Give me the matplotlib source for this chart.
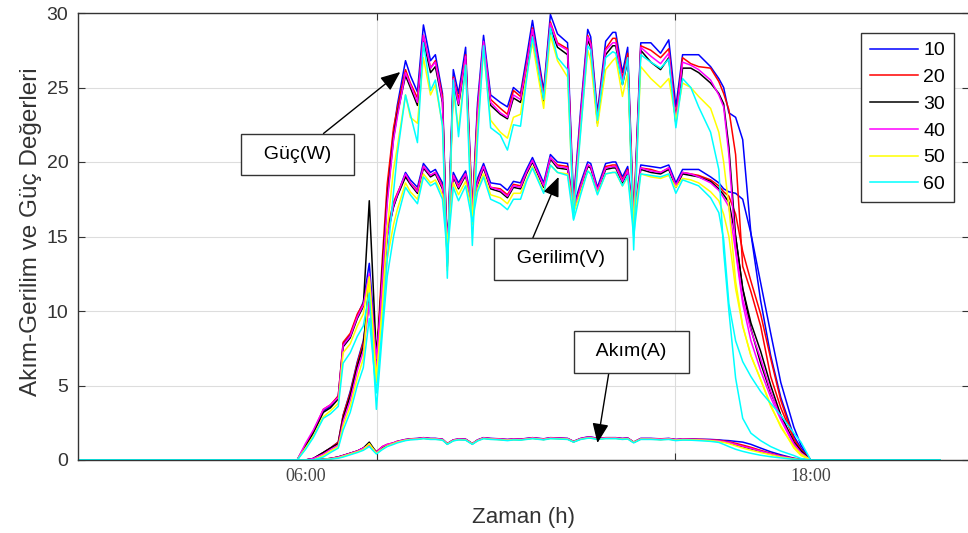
import matplotlib
matplotlib.use("Agg")
import matplotlib.pyplot as plt

plt.rcParams["font.family"] = ["Liberation Sans", "DejaVu Sans"]

# time of day (hours)
hours = [0.0, 5.87, 6.09, 6.30, 6.57, 6.76, 6.97, 7.10, 7.29, 7.48, 7.64, 7.80, 7.99, 8.15, 8.28,
         8.45, 8.55, 8.77, 8.90, 9.09, 9.25, 9.44, 9.57, 9.76, 9.89, 10.05, 10.19, 10.38, 10.56, 10.70,
         10.86, 11.05, 11.31, 11.50, 11.66, 11.85, 12.01, 12.17, 12.47, 12.65, 12.84, 13.11, 13.27, 13.46, 13.65,
         13.73, 13.91, 14.13, 14.32, 14.40, 14.58, 14.72, 14.88, 15.07, 15.34, 15.60, 15.82, 16.01, 16.19, 16.41,
         16.62, 16.94, 17.16, 17.29, 17.43, 17.61, 17.80, 18.02, 18.28, 18.55, 18.82, 19.17, 19.36, 19.62, 23.08]

series_labels = ["10", "20", "30", "40", "50", "60"]

# Güç (W)
guc_10 = [0, 0, 0, 0.1, 0.5, 0.8, 1.2, 3.0, 4.6, 6.6, 8.0, 11.0, 6.0, 12.5, 18.0,
          22.0, 23.8, 26.8, 25.8, 24.7, 29.2, 26.8, 27.2, 24.6, 13.5, 26.2, 24.6, 27.7, 16.8, 24.0,
          28.5, 24.5, 24.0, 23.7, 25.0, 24.6, 27.0, 29.5, 24.8, 29.9, 28.6, 28.0, 17.4, 23.5, 28.9,
          28.4, 23.3, 28.1, 28.7, 28.7, 26.0, 27.7, 16.3, 28.0, 28.0, 27.3, 28.2, 23.7, 27.2, 27.2,
          27.2, 26.4, 25.6, 25.0, 23.3, 23.0, 21.5, 15.2, 11.9, 8.5, 5.2, 2.2, 1.0, 0, 0]
guc_20 = [0, 0, 0, 0.1, 0.5, 0.8, 1.2, 3.0, 4.5, 6.5, 7.9, 10.5, 6.5, 13.5, 18.5,
          22.3, 23.6, 26.2, 25.3, 24.3, 28.5, 26.3, 26.8, 24.4, 13.2, 25.7, 24.2, 27.2, 16.5, 23.6,
          28.0, 24.2, 23.6, 23.2, 24.8, 24.4, 26.6, 29.0, 24.5, 29.4, 28.0, 27.6, 16.8, 23.1, 28.5,
          28.0, 23.0, 27.6, 28.3, 28.3, 25.6, 27.3, 15.8, 27.8, 27.5, 27.0, 27.6, 23.0, 27.0, 26.6,
          26.4, 26.3, 25.4, 24.6, 23.5, 20.5, 13.0, 11.3, 9.0, 5.6, 3.5, 1.4, 0.7, 0, 0]
guc_30 = [0, 0, 0, 0.1, 0.5, 0.8, 1.1, 2.8, 4.3, 6.3, 7.6, 12.0, 6.2, 12.8, 17.5,
          21.6, 23.2, 25.8, 25.0, 23.8, 28.2, 26.0, 26.4, 24.0, 13.0, 25.4, 23.8, 26.9, 16.2, 23.3,
          27.8, 23.8, 23.2, 22.9, 24.3, 24.0, 26.2, 28.7, 24.1, 29.0, 27.7, 27.2, 16.6, 22.8, 28.2,
          27.7, 22.6, 27.2, 27.8, 27.8, 25.2, 26.8, 15.6, 27.5, 26.7, 26.2, 27.0, 22.6, 26.3, 26.3,
          26.0, 25.3, 24.6, 23.9, 21.0, 15.0, 11.5, 9.2, 7.3, 5.0, 3.0, 1.2, 0.6, 0, 0]
guc_40 = [0, 0, 0, 0.1, 0.4, 0.7, 1.0, 2.6, 4.0, 6.0, 7.3, 10.5, 6.0, 12.3, 17.2,
          21.5, 23.0, 26.0, 25.2, 24.0, 28.5, 26.3, 26.7, 24.1, 13.2, 25.6, 23.9, 27.1, 16.4, 23.4,
          28.1, 24.0, 23.3, 23.0, 24.5, 24.2, 26.4, 28.9, 24.3, 29.3, 27.9, 27.5, 16.9, 23.0, 28.4,
          27.9, 22.8, 27.5, 28.0, 28.0, 25.4, 27.0, 15.9, 27.7, 27.1, 26.6, 27.3, 22.8, 26.7, 26.5,
          26.2, 25.5, 24.5, 23.7, 20.5, 14.2, 10.8, 8.7, 6.8, 4.6, 2.8, 1.1, 0.5, 0, 0]
guc_50 = [0, 0, 0, 0, 0.3, 0.6, 0.9, 2.3, 3.6, 5.5, 6.8, 12.0, 5.2, 10.5, 15.5,
          19.5, 21.0, 24.5, 23.0, 22.6, 27.0, 24.5, 25.2, 22.5, 12.7, 24.8, 22.2, 26.5, 15.8, 22.3,
          27.5, 22.8, 22.0, 21.6, 23.0, 23.2, 25.8, 28.0, 23.6, 28.5, 26.8, 25.7, 16.5, 22.2, 27.5,
          26.8, 22.4, 26.2, 26.8, 27.0, 24.4, 26.0, 15.5, 26.4, 25.6, 25.0, 25.6, 22.8, 25.3, 25.0,
          24.4, 23.6, 22.0, 20.0, 17.0, 12.0, 9.0, 7.0, 5.4, 3.7, 2.2, 0.9, 0.4, 0, 0]
guc_60 = [0, 0, 0, 0, 0.2, 0.5, 0.8, 2.0, 3.2, 5.0, 6.2, 9.5, 4.5, 9.0, 13.5,
          18.0, 20.5, 24.5, 23.2, 21.3, 28.0, 24.8, 25.5, 22.4, 12.2, 25.5, 21.7, 26.5, 14.4, 21.5,
          27.8, 22.3, 21.8, 20.8, 22.5, 22.4, 25.5, 28.4, 24.2, 29.0, 27.0, 26.2, 16.2, 22.0, 27.8,
          27.5, 22.8, 27.0, 27.4, 27.3, 25.2, 27.0, 14.1, 27.2, 26.7, 26.3, 26.9, 22.3, 25.6, 25.0,
          23.7, 22.0, 19.5, 14.0, 10.0, 5.5, 2.8, 1.8, 1.3, 0.9, 0.6, 0.3, 0.1, 0, 0]

# Gerilim (V)
gerilim_10 = [0, 0, 1.0, 1.9, 3.3, 3.6, 4.3, 7.8, 8.4, 9.7, 10.6, 13.2, 7.2, 11.0, 15.0,
              17.0, 17.8, 19.3, 18.8, 18.3, 19.9, 19.3, 19.5, 18.6, 15.2, 19.3, 18.6, 19.4, 17.3, 18.9,
              19.9, 18.6, 18.5, 18.1, 18.7, 18.6, 19.5, 20.3, 18.6, 20.5, 20.0, 19.9, 17.0, 18.6, 20.0,
              19.9, 18.3, 19.9, 20.0, 20.0, 19.0, 19.7, 16.3, 19.8, 19.7, 19.6, 19.8, 18.6, 19.5, 19.5,
              19.5, 19.0, 18.6, 18.2, 18.0, 17.9, 17.5, 15.2, 10.7, 7.0, 4.2, 1.6, 0.8, 0, 0]
gerilim_20 = [0, 0, 1.0, 1.9, 3.4, 3.7, 4.3, 7.9, 8.5, 9.8, 10.5, 12.0, 7.0, 11.8, 15.5,
              17.3, 17.9, 19.1, 18.6, 18.1, 19.7, 19.1, 19.3, 18.4, 15.0, 19.1, 18.4, 19.2, 17.0, 18.7,
              19.7, 18.3, 18.2, 17.8, 18.5, 18.4, 19.3, 20.1, 18.4, 20.3, 19.8, 19.7, 16.8, 18.4, 19.8,
              19.7, 18.1, 19.7, 19.8, 19.8, 18.8, 19.5, 16.1, 19.6, 19.5, 19.3, 19.6, 18.4, 19.3, 19.2,
              19.1, 18.8, 18.4, 18.0, 17.7, 16.5, 14.0, 12.0, 9.8, 6.8, 4.0, 1.4, 0.6, 0, 0]
gerilim_30 = [0, 0, 0.9, 1.8, 3.2, 3.5, 4.1, 7.6, 8.2, 9.5, 10.3, 17.4, 7.0, 11.5, 15.2,
              17.0, 17.7, 19.0, 18.5, 17.9, 19.6, 19.0, 19.2, 18.2, 14.9, 19.0, 18.2, 19.1, 16.9, 18.5,
              19.6, 18.2, 18.0, 17.6, 18.3, 18.2, 19.2, 20.0, 18.3, 20.2, 19.6, 19.5, 16.7, 18.2, 19.7,
              19.6, 18.0, 19.5, 19.6, 19.6, 18.6, 19.3, 16.0, 19.5, 19.3, 19.2, 19.5, 18.3, 19.2, 19.1,
              19.0, 18.7, 18.2, 17.8, 17.3, 15.0, 11.5, 8.8, 6.5, 4.5, 3.0, 1.1, 0.5, 0, 0]
gerilim_40 = [0, 0, 1.1, 2.0, 3.4, 3.7, 4.2, 7.7, 8.3, 9.6, 10.4, 12.5, 6.8, 11.2, 15.0,
              17.1, 17.8, 19.2, 18.6, 18.0, 19.7, 19.1, 19.3, 18.3, 15.0, 19.1, 18.3, 19.2, 17.0, 18.6,
              19.7, 18.3, 18.1, 17.7, 18.4, 18.3, 19.3, 20.1, 18.4, 20.3, 19.7, 19.6, 16.8, 18.3, 19.8,
              19.7, 18.1, 19.6, 19.7, 19.7, 18.7, 19.4, 16.1, 19.6, 19.4, 19.3, 19.6, 18.4, 19.3, 19.2,
              19.0, 18.6, 18.1, 17.6, 17.0, 14.0, 10.5, 8.0, 6.0, 4.2, 2.7, 1.0, 0.4, 0, 0]
gerilim_50 = [0, 0, 0.8, 1.6, 2.9, 3.3, 3.8, 7.2, 7.8, 9.0, 9.8, 12.3, 5.5, 10.0, 13.5,
              15.8, 16.8, 18.6, 18.0, 17.5, 19.2, 18.6, 18.8, 17.8, 14.6, 18.6, 17.8, 18.7, 16.6, 18.2,
              19.2, 17.8, 17.6, 17.2, 17.9, 17.9, 18.8, 19.7, 18.0, 19.8, 19.3, 19.2, 16.6, 18.0, 19.4,
              19.2, 17.9, 19.2, 19.3, 19.3, 18.4, 19.0, 16.0, 19.2, 19.0, 18.9, 19.1, 18.3, 18.9, 18.8,
              18.6, 18.0, 17.4, 16.5, 15.0, 11.5, 9.0, 7.0, 5.4, 3.6, 2.3, 0.8, 0.3, 0, 0]
gerilim_60 = [0, 0, 0.7, 1.5, 2.8, 3.1, 3.6, 6.5, 7.2, 8.3, 9.0, 11.2, 3.4, 8.5, 12.3,
              15.0, 16.2, 18.3, 17.8, 17.2, 19.0, 18.4, 18.6, 17.5, 13.8, 18.3, 17.4, 18.4, 16.0, 18.0,
              19.0, 17.5, 17.2, 16.8, 17.5, 17.5, 18.7, 19.6, 17.9, 19.8, 19.3, 19.1, 16.1, 17.8, 19.4,
              19.2, 17.8, 19.2, 19.3, 19.3, 18.4, 19.1, 15.0, 19.2, 19.1, 19.0, 19.2, 17.9, 18.8, 18.6,
              18.4, 17.6, 16.6, 14.8, 10.5, 8.0, 6.6, 5.6, 4.6, 3.8, 3.0, 1.8, 1.2, 0, 0]

# Akım (A)
akim_10 = [0, 0, 0, 0, 0.05, 0.1, 0.2, 0.3, 0.45, 0.6, 0.8, 1.05, 0.55, 0.85, 1.0,
           1.15, 1.25, 1.38, 1.42, 1.45, 1.5, 1.45, 1.45, 1.4, 1.1, 1.35, 1.42, 1.4, 1.1, 1.35,
           1.5, 1.45, 1.42, 1.38, 1.42, 1.4, 1.45, 1.5, 1.42, 1.5, 1.48, 1.45, 1.25, 1.45, 1.55,
           1.55, 1.45, 1.5, 1.5, 1.5, 1.45, 1.48, 1.2, 1.45, 1.45, 1.42, 1.45, 1.38, 1.42, 1.42,
           1.4, 1.38, 1.35, 1.32, 1.3, 1.25, 1.2, 1.05, 0.8, 0.55, 0.35, 0.12, 0.05, 0, 0]
akim_20 = [0, 0, 0, 0, 0.05, 0.1, 0.2, 0.3, 0.45, 0.6, 0.8, 1.0, 0.55, 0.9, 1.05,
           1.15, 1.25, 1.36, 1.4, 1.43, 1.48, 1.43, 1.43, 1.38, 1.1, 1.33, 1.4, 1.38, 1.1, 1.33,
           1.48, 1.43, 1.4, 1.36, 1.4, 1.38, 1.43, 1.48, 1.4, 1.48, 1.46, 1.43, 1.23, 1.43, 1.52,
           1.52, 1.43, 1.48, 1.48, 1.48, 1.43, 1.46, 1.2, 1.43, 1.43, 1.4, 1.43, 1.36, 1.4, 1.4,
           1.38, 1.36, 1.32, 1.28, 1.22, 1.12, 1.0, 0.85, 0.65, 0.45, 0.28, 0.1, 0.04, 0, 0]
akim_30 = [0, 0, 0, 0, 0.05, 0.1, 0.2, 0.3, 0.45, 0.6, 0.8, 1.2, 0.5, 0.85, 1.0,
           1.12, 1.22, 1.35, 1.4, 1.42, 1.47, 1.42, 1.42, 1.37, 1.08, 1.32, 1.38, 1.37, 1.08, 1.32,
           1.47, 1.42, 1.38, 1.35, 1.38, 1.37, 1.42, 1.47, 1.38, 1.47, 1.45, 1.42, 1.22, 1.42, 1.5,
           1.5, 1.42, 1.47, 1.47, 1.47, 1.42, 1.45, 1.18, 1.42, 1.42, 1.38, 1.42, 1.35, 1.38, 1.38,
           1.36, 1.33, 1.28, 1.22, 1.15, 1.02, 0.9, 0.75, 0.58, 0.4, 0.25, 0.08, 0.03, 0, 0]
akim_40 = [0, 0, 0, 0, 0.05, 0.1, 0.2, 0.3, 0.45, 0.6, 0.8, 1.0, 0.5, 0.9, 1.05,
           1.15, 1.25, 1.37, 1.41, 1.44, 1.49, 1.44, 1.44, 1.39, 1.1, 1.34, 1.41, 1.39, 1.1, 1.34,
           1.49, 1.44, 1.41, 1.37, 1.41, 1.39, 1.44, 1.49, 1.41, 1.49, 1.47, 1.44, 1.24, 1.44, 1.53,
           1.53, 1.44, 1.49, 1.49, 1.49, 1.44, 1.47, 1.2, 1.44, 1.44, 1.41, 1.44, 1.37, 1.41, 1.4,
           1.38, 1.34, 1.3, 1.24, 1.18, 1.05, 0.92, 0.78, 0.6, 0.42, 0.26, 0.09, 0.03, 0, 0]
akim_50 = [0, 0, 0, 0, 0.04, 0.08, 0.15, 0.25, 0.4, 0.55, 0.7, 1.1, 0.45, 0.75, 0.95,
           1.1, 1.2, 1.33, 1.38, 1.4, 1.45, 1.4, 1.4, 1.35, 1.08, 1.3, 1.37, 1.35, 1.08, 1.3,
           1.45, 1.4, 1.37, 1.33, 1.37, 1.35, 1.4, 1.45, 1.37, 1.45, 1.43, 1.4, 1.22, 1.4, 1.48,
           1.48, 1.4, 1.45, 1.45, 1.45, 1.4, 1.43, 1.18, 1.4, 1.4, 1.37, 1.4, 1.33, 1.37, 1.36,
           1.34, 1.3, 1.24, 1.18, 1.1, 0.95, 0.8, 0.65, 0.5, 0.35, 0.2, 0.07, 0.02, 0, 0]
akim_60 = [0, 0, 0, 0, 0.03, 0.06, 0.12, 0.2, 0.35, 0.5, 0.65, 0.9, 0.4, 0.7, 0.9,
           1.05, 1.15, 1.3, 1.35, 1.38, 1.43, 1.38, 1.38, 1.33, 1.05, 1.28, 1.35, 1.33, 1.05, 1.28,
           1.43, 1.38, 1.35, 1.3, 1.35, 1.33, 1.38, 1.43, 1.35, 1.43, 1.41, 1.38, 1.2, 1.38, 1.46,
           1.46, 1.38, 1.43, 1.43, 1.43, 1.38, 1.41, 1.15, 1.38, 1.38, 1.35, 1.38, 1.3, 1.34, 1.33,
           1.3, 1.25, 1.18, 1.05, 0.9, 0.72, 0.58, 0.45, 0.32, 0.22, 0.14, 0.05, 0.02, 0, 0]

guc = [guc_10, guc_20, guc_30, guc_40, guc_50, guc_60]
gerilim = [gerilim_10, gerilim_20, gerilim_30, gerilim_40, gerilim_50, gerilim_60]
akim = [akim_10, akim_20, akim_30, akim_40, akim_50, akim_60]

# hour positions of the two time labels under the axis
time_label_pos = [6.09, 19.62]
time_labels = ["06:00", "18:00"]

colors = ["#0000ff", "#ff0000", "#000000", "#ff00ff", "#ffff00", "#00ffff"]

fig = plt.figure(figsize=(9.68, 5.33), dpi=100)
ax = fig.add_axes([78 / 968, 73 / 533, 891 / 968, 447 / 533])

for lab, col, p, v, a in zip(series_labels, colors, guc, gerilim, akim):
    ax.plot(hours, p, color=col, lw=1.1, label=lab)
    ax.plot(hours, v, color=col, lw=1.1)
    ax.plot(hours, a, color=col, lw=1.1)

ax.set_xlim(0, 23.86)
ax.set_ylim(0, 30)

# axes styling
ax.set_xticks([8, 16], labels=["", ""])
ax.set_xticks(time_label_pos, labels=time_labels, minor=True)
ax.set_yticks(range(0, 31, 5))
ax.tick_params(which="major", direction="in", top=True, right=True, length=5,
               width=0.8, color="#333333", labelsize=14, labelcolor="#333333", pad=7)
ax.tick_params(axis="x", which="minor", length=0, pad=6, labelsize=13, labelcolor="#444444")
for lbl in ax.get_xticklabels(minor=True):
    lbl.set_fontfamily("Liberation Serif")
ax.grid(True, which="major", color="#dddddd", lw=0.8)
ax.set_axisbelow(True)
for s in ax.spines.values():
    s.set_color("#333333")
    s.set_linewidth(1.0)

ax.set_xlabel("Zaman (h)", fontsize=16, color="#333333")
ax.xaxis.set_label_coords(0.5, -0.105)
ax.set_ylabel("Akım-Gerilim ve Güç Değerleri", fontsize=17.5, color="#333333")
ax.yaxis.set_label_coords(-0.04, 0.51)

leg = ax.legend(loc="upper right", bbox_to_anchor=(0.983, 0.955), fontsize=14,
                fancybox=False, edgecolor="#333333", framealpha=1, handlelength=2.5,
                handletextpad=0.25, labelspacing=0.47, borderpad=0.45, borderaxespad=0)
leg.get_frame().set_linewidth(1.0)

# text boxes with arrows
box = dict(boxstyle="square,pad=0.62", fc="white", ec="#333333", lw=1.0)
arrow = dict(arrowstyle="-|>,head_length=0.6,head_width=0.25", color="black", lw=1.0,
             shrinkA=0, shrinkB=0, mutation_scale=20)
ax.annotate("  Güç(W)  ", xy=(8.63, 26.04), xytext=(5.87, 20.5), fontsize=14,
            ha="center", va="center", bbox=box, arrowprops=arrow)
ax.annotate("  Gerilim(V)  ", xy=(12.87, 19.0), xytext=(12.92, 13.49), fontsize=14,
            ha="center", va="center", bbox=box, arrowprops=dict(arrow, relpos=(0.2, 1.0)))
ax.annotate("  Akım(A)  ", xy=(13.91, 1.14), xytext=(14.83, 7.25), fontsize=14,
            ha="center", va="center", bbox=box, arrowprops=dict(arrow, relpos=(0.27, 0.0)))

fig.savefig("out.png", dpi=100)
